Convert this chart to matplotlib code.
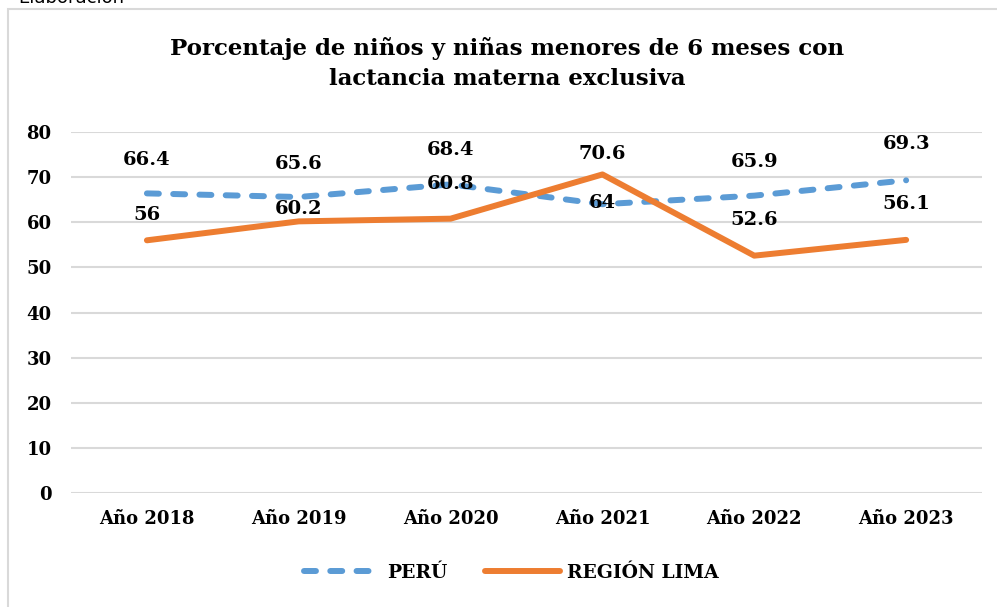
import matplotlib.pyplot as plt
from matplotlib.patches import Rectangle

plt.rcParams['font.family'] = ['DejaVu Serif']
plt.rcParams['font.weight'] = 'bold'

years = ["Año 2018", "Año 2019", "Año 2020", "Año 2021", "Año 2022", "Año 2023"]
peru = [66.4, 65.6, 68.4, 64, 65.9, 69.3]
lima = [56, 60.2, 60.8, 70.6, 52.6, 56.1]

# label offsets above each point (in points), moved by hand like in the original
peru_off = [24, 24, 25, 1, 24, 26]
lima_off = [18, 9, 25, 15, 26, 26]

fig = plt.figure(figsize=(9.97, 6.07), dpi=100)
ax = fig.add_axes([0.0712, 0.1878, 0.9138, 0.5947])

xi = list(range(len(years)))
l1, = ax.plot(xi, peru, color='#5B9BD5', lw=4.3, dash_capstyle='round', label='PERÚ')
l1.set_dashes([2.0, 2.4])
l2, = ax.plot(xi, lima, color='#ED7D31', lw=4.3, solid_capstyle='round', label='REGIÓN LIMA')

for x, v, o in zip(xi, peru, peru_off):
    ax.annotate(str(v), (x, v), xytext=(0, o), textcoords='offset points',
                ha='center', va='center', fontsize=14, fontweight='bold')
for x, v, o in zip(xi, lima, lima_off):
    ax.annotate(str(v), (x, v), xytext=(0, o), textcoords='offset points',
                ha='center', va='center', fontsize=14, fontweight='bold')

ax.set_xlim(-0.5, 5.5)
ax.set_ylim(0, 80)
ax.set_yticks(range(0, 81, 10))
ax.set_xticks(xi, years)
ax.grid(axis='y', color='#D9D9D9', lw=1.5)
ax.set_axisbelow(True)
for s in ax.spines.values():
    s.set_visible(False)
ax.tick_params(length=0, labelsize=13)
ax.tick_params(axis='y', pad=14)
ax.tick_params(axis='x', pad=12)

fig.text(0.509, 1 - 63.5 / 607, "Porcentaje de niños y niñas menores de 6 meses con\nlactancia materna exclusiva",
         ha='center', va='center', fontsize=16.5, fontweight='bold', linespacing=1.45)

fig.legend(handles=[l1, l2], loc='center', bbox_to_anchor=(0.513, 1 - 573 / 607), ncol=2,
           frameon=False, fontsize=13.5, handlelength=4.0, columnspacing=2.0, handletextpad=0.4)

# outer chart frame (runs off the right and bottom edge)
fig.patches.append(Rectangle((8 / 997, -0.1), 1.2, (607 - 9) / 607 + 0.1, transform=fig.transFigure,
                             fill=False, ec='#D9D9D9', lw=1.5))
fig.text(0.018, 1 - 3 / 607, "Elaboración", fontsize=13, fontweight='normal',
         family='DejaVu Sans', va='baseline')

plt.savefig("out.png", format="png")
